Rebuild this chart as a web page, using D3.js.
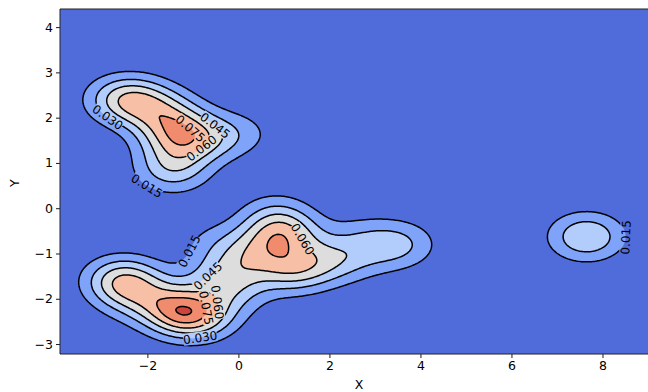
<!DOCTYPE html>
<html>
<head>
<meta charset="utf-8">
<script src="https://cdn.jsdelivr.net/npm/d3@7"></script>
<style>
  body { margin: 0; background: #fff; }
  text { font-family: "DejaVu Sans", sans-serif; }
</style>
</head>
<body>
<div id="chart"></div>
<script>
// sample points (x, y) and their weights for the kernel density
const ptX = [-2.5, -1.9, -1.5, -1.35, -0.75, 0.05, -1.45,
             -2.55, -2.3, -1.95, -1.3, -0.8,
             -0.35, -0.1, -0.55, 0.25, 0.8, 0.95, 1.2,
             2.1, 2.7, 2.9, 3.55,
             7.65];
const ptY = [2.4, 2.3, 1.95, 1.5, 1.55, 1.65, 0.85,
             -1.6, -2.05, -1.9, -2.28, -2.42,
             -1.55, -1.9, -0.75, -1.05, -0.1, -0.58, -1.35,
             -1.15, -0.6, -1.05, -0.8,
             -0.63];
const ptW = [1.1, 0.5, 0.8, 0.8, 0.6, 0.35, 0.8,
             1.2, 0.3, 0.35, 1.36, 0.7,
             0.7, 0.35, 0.3, 0.7, 0.4, 1.2, 1.0,
             0.65, 0.3, 0.2, 0.65,
             1.0];
const bandX = 0.585;
const bandY = 0.377;

const levels = [0, 0.015, 0.030, 0.045, 0.060, 0.075, 0.090, 0.105];
const xTicks = [-2, 0, 2, 4, 6, 8];
const yTicks = [-3, -2, -1, 0, 1, 2, 3, 4];

// where the inline contour labels sit (level, data x, data y)
const labelLevel = [0.030, 0.015, 0.045, 0.075, 0.060, 0.015, 0.045, 0.060, 0.075, 0.030, 0.060, 0.015];
const labelX = [-2.89, -1.92, -0.49, -1.05, -0.9, -1.13, -0.66, -0.34, -0.71, -0.86, 1.36, 8.57];
const labelY = [1.97, 0.65, 1.86, 1.78, 1.45, -0.92, -1.52, -2.07, -2.2, -2.73, -0.72, -0.65];

const colors = ['#506cda', '#80a3fa', '#b2ccfb', '#dddddd', '#f6bfa6', '#f08b6d', '#ce433b'];

const width = 648;
const height = 392;
const margin = { left: 60, top: 9, right: 0, bottom: 38 };
const plotW = width - margin.left - margin.right;
const plotH = height - margin.top - margin.bottom;

const x = d3.scaleLinear().domain([-3.92, 9.0]).range([margin.left, margin.left + plotW]);
const y = d3.scaleLinear().domain([-3.22, 4.4]).range([margin.top + plotH, margin.top]);

const svg = d3.select('#chart').append('svg')
  .attr('width', width)
  .attr('height', height);

// density grid
const nx = 430;
const ny = 250;
const totalW = d3.sum(ptW);
const norm = 1 / (totalW * 2 * Math.PI * bandX * bandY);
const grid = new Float64Array(nx * ny);
for (let j = 0; j < ny; j++) {
  const gy = y.invert(margin.top + (j + 0.5) * plotH / ny);
  for (let i = 0; i < nx; i++) {
    const gx = x.invert(margin.left + (i + 0.5) * plotW / nx);
    let s = 0;
    for (let k = 0; k < ptX.length; k++) {
      const dx = (gx - ptX[k]) / bandX;
      const dy = (gy - ptY[k]) / bandY;
      s += ptW[k] * Math.exp(-0.5 * (dx * dx + dy * dy));
    }
    grid[i + j * nx] = s * norm;
  }
}

const contours = d3.contours()
  .size([nx, ny])
  .thresholds(levels.slice(1, -1))(grid);

const toPixel = (px, py) => [margin.left + px * plotW / nx, margin.top + py * plotH / ny];
const projection = d3.geoTransform({
  point: function (px, py) {
    const p = toPixel(px, py);
    this.stream.point(p[0], p[1]);
  }
});
const path = d3.geoPath().projection(projection);

const defs = svg.append('defs');
defs.append('clipPath').attr('id', 'plotClip')
  .append('rect')
  .attr('x', margin.left).attr('y', margin.top)
  .attr('width', plotW).attr('height', plotH);

const plot = svg.append('g').attr('clip-path', 'url(#plotClip)');

plot.append('rect')
  .attr('x', margin.left).attr('y', margin.top)
  .attr('width', plotW).attr('height', plotH)
  .attr('fill', colors[0]);

plot.selectAll('path.band')
  .data(contours)
  .enter()
  .append('path')
  .attr('class', 'band')
  .attr('d', path)
  .attr('fill', (d, i) => colors[i + 1]);

// labels: find nearest contour vertex and the local direction
const mask = defs.append('mask').attr('id', 'labelMask')
  .attr('maskUnits', 'userSpaceOnUse')
  .attr('x', 0).attr('y', 0).attr('width', width).attr('height', height);
mask.append('rect').attr('width', width).attr('height', height).attr('fill', '#fff');

const labels = [];
labelLevel.forEach((lv, n) => {
  const c = contours.find(d => Math.abs(d.value - lv) < 1e-9);
  if (!c) return;
  const tx = x(labelX[n]);
  const ty = y(labelY[n]);
  let best = null;
  c.coordinates.forEach(poly => poly.forEach(ring => {
    const pts = ring.map(p => toPixel(p[0], p[1]));
    pts.forEach((p, k) => {
      const dd = (p[0] - tx) ** 2 + (p[1] - ty) ** 2;
      if (!best || dd < best.dd) best = { dd, pts, k };
    });
  }));
  if (!best) return;
  const m = best.pts.length - 1;
  const a = best.pts[(best.k - 4 + m) % m];
  const b = best.pts[(best.k + 4) % m];
  let ang = Math.atan2(b[1] - a[1], b[0] - a[0]) * 180 / Math.PI;
  if (ang > 90) ang -= 180;
  if (ang <= -90) ang += 180;
  const p = best.pts[best.k];
  labels.push({ text: lv.toFixed(3), x: p[0], y: p[1], ang });
});

labels.forEach(l => {
  mask.append('rect')
    .attr('x', -17).attr('y', -6)
    .attr('width', 34).attr('height', 12)
    .attr('fill', '#000')
    .attr('transform', `translate(${l.x},${l.y}) rotate(${l.ang})`);
});

plot.append('g')
  .attr('mask', 'url(#labelMask)')
  .selectAll('path')
  .data(contours)
  .enter()
  .append('path')
  .attr('d', path)
  .attr('fill', 'none')
  .attr('stroke', '#000')
  .attr('stroke-width', 1.5);

plot.append('g')
  .selectAll('text')
  .data(labels)
  .enter()
  .append('text')
  .attr('transform', d => `translate(${d.x},${d.y}) rotate(${d.ang})`)
  .attr('text-anchor', 'middle')
  .attr('dy', '0.36em')
  .attr('font-size', 12)
  .attr('fill', '#000')
  .text(d => d.text);

// axes
const fmt = d => (d < 0 ? '\u2212' + Math.abs(d) : String(d));
const xAxis = svg.append('g')
  .attr('transform', `translate(0,${margin.top + plotH})`)
  .call(d3.axisBottom(x).tickValues(xTicks).tickFormat(fmt).tickSizeOuter(0).tickSize(4).tickPadding(3));
const yAxis = svg.append('g')
  .attr('transform', `translate(${margin.left},0)`)
  .call(d3.axisLeft(y).tickValues(yTicks).tickFormat(fmt).tickSizeOuter(0).tickSize(4).tickPadding(3));
[xAxis, yAxis].forEach(g => {
  g.select('.domain').remove();
  g.selectAll('text').attr('font-size', 12.5).attr('fill', '#000')
    .style('font-family', '"DejaVu Sans", sans-serif');
  g.selectAll('line').attr('stroke', '#000').attr('stroke-width', 0.9);
});

// frame
svg.append('path')
  .attr('d', `M${margin.left + plotW},${margin.top}H${margin.left}V${margin.top + plotH}H${margin.left + plotW}`)
  .attr('fill', 'none')
  .attr('stroke', '#222')
  .attr('stroke-width', 1);

svg.append('text')
  .attr('x', x(2.65)).attr('y', 389)
  .attr('text-anchor', 'middle')
  .attr('font-size', 12.5)
  .text('X');

svg.append('text')
  .attr('transform', `translate(19,${y(0.55)}) rotate(-90)`)
  .attr('text-anchor', 'middle')
  .attr('font-size', 12.5)
  .text('Y');
</script>
</body>
</html>
